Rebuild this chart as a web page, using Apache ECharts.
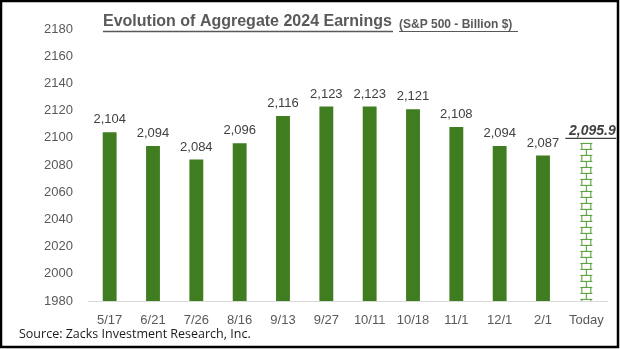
<!DOCTYPE html>
<html><head><meta charset="utf-8">
<script src="https://cdn.jsdelivr.net/npm/echarts@6/dist/echarts.min.js"></script>
<style>html,body{margin:0;padding:0;background:#fff}#c{width:620px;height:349px}</style>
</head><body><div id="c"></div>
<script>
const categories = ['5/17','6/21','7/26','8/16','9/13','9/27','10/11','10/18','11/1','12/1','2/1','Today'];
const earnings = [2104, 2094, 2084, 2096, 2116, 2123, 2123, 2121, 2108, 2094, 2087];
const todayValue = 2095.9;
const yMin = 1980, yMax = 2180, yStep = 20;

const chart = echarts.init(document.getElementById('c'));
const fmt = v => v.toLocaleString('en-US');

const barData = earnings.concat(['-']);

function renderToday(params, api) {
  const xi = api.value(0), v = api.value(1);
  const top = api.coord([xi, v]);
  const bot = api.coord([xi, yMin]);
  const cx = top[0];
  const hw = 6, rw = 4.5, step = 12;
  const stroke = '#4f9a2c';
  const children = [];
  const ln = (x1, y1, x2, y2) => children.push({type:'line', shape:{x1,y1,x2,y2}, style:{stroke, lineWidth:1}});
  for (let y = top[1]; y < bot[1]; y += step) {
    const y2 = Math.min(y + step/2, bot[1]);
    ln(cx - hw, y, cx + hw, y);
    ln(cx - rw, y, cx - rw, y2);
    ln(cx + rw, y, cx + rw, y2);
    if (y + step/2 < bot[1]) {
      ln(cx - hw, y2, cx + hw, y2);
      ln(cx, y2, cx, Math.min(y + step, bot[1]));
    }
  }
  children.push({type:'text', style:{text: todayValue.toFixed(1).replace(/\B(?=(\d{3})+(?!\d))/g, ','), x: cx + 6, y: top[1] - 12,
    align:'center', verticalAlign:'middle', font:'italic bold 14px "Liberation Sans", Arial', fill:'#404040'}});
  children.push({type:'line', shape:{x1: cx - 21, y1: top[1] - 5, x2: cx + 30, y2: top[1] - 5}, style:{stroke:'#404040', lineWidth:1.3}});
  return {type:'group', children};
}

chart.setOption({
  animation: false,
  backgroundColor: '#fff',
  grid: {left: 88, right: 12, top: 29, bottom: 48},
  xAxis: {
    type: 'category', data: categories,
    axisLine: {lineStyle: {color: '#d9d9d9'}},
    axisTick: {show: false},
    axisLabel: {interval: 0, color: '#595959', fontSize: 13, fontFamily: '"Liberation Sans", Arial', margin: 13}
  },
  yAxis: {
    type: 'value', min: yMin, max: yMax, interval: yStep,
    splitLine: {show: false},
    axisLine: {show: false},
    axisLabel: {color: '#595959', fontSize: 13, fontFamily: '"Liberation Sans", Arial', margin: 15, formatter: v => String(v)}
  },
  series: [
    {
      type: 'bar', data: barData, barWidth: '32%',
      itemStyle: {color: '#3f7d20'},
      label: {show: true, position: 'top', distance: 6, color: '#404040', fontSize: 13,
        fontFamily: '"Liberation Sans", Arial', formatter: p => fmt(p.value)}
    },
    {
      type: 'custom', data: [[11, todayValue]], renderItem: renderToday,
      encode: {x: 0, y: 1}, z: 3
    }
  ],
  graphic: [
    {type:'rect', shape:{x:1, y:1, width:617, height:346}, style:{fill:'none', stroke:'#000', lineWidth:2.5}, silent:true},
    {type:'text', left: 103, top: 14, style:{text:'Evolution of Aggregate 2024 Earnings', font:'bold 16px "Liberation Sans", Arial', fill:'#595959'}},
    {type:'line', shape:{x1:103, y1:31.5, x2:393, y2:31.5}, style:{stroke:'#595959', lineWidth:1.3}},
    {type:'text', left: 399, top: 19, style:{text:'(S&P 500 - Billion $)', font:'bold 12px "Liberation Sans", Arial', fill:'#595959'}},
    {type:'line', shape:{x1:399, y1:31.5, x2:518, y2:31.5}, style:{stroke:'#595959', lineWidth:1}},
    {type:'text', left: 19, top: 328, style:{text:'Source: Zacks Investment Research, Inc.', font:'12.5px "Open Sans", "Liberation Sans", Arial', fill:'#1a1a1a'}}
  ]
});
</script></body></html>
